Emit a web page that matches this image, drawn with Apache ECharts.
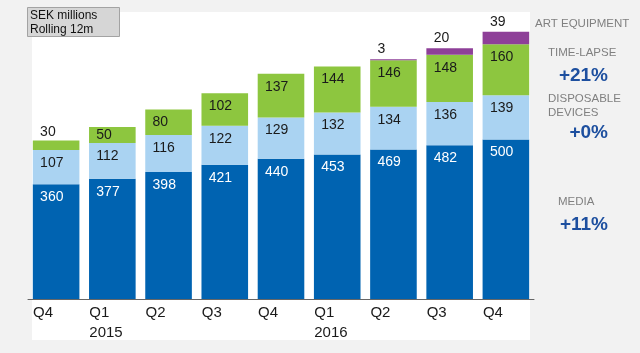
<!DOCTYPE html>
<html><head><meta charset="utf-8">
<script src="https://cdn.jsdelivr.net/npm/echarts/dist/echarts.min.js"></script>
<style>html,body{margin:0;padding:0;background:#f2f2f2}#c{width:640px;height:353px}</style>
</head><body><div id="c"></div>
<script>
const quarters = ['Q4','Q1','Q2','Q3','Q4','Q1','Q2','Q3','Q4'];
const years = ['','2015','','','','2016','','',''];
const media = [360,377,398,421,440,453,469,482,500];
const disposable = [107,112,116,122,129,132,134,136,139];
const timelapse = [30,50,80,102,137,144,146,148,160];
const artEquipment = [0,0,0,0,0,0,3,20,39];
const seriesNames = ['MEDIA','DISPOSABLE DEVICES','TIME-LAPSE','ART EQUIPMENT'];
const growthTimelapse = '+21%';
const growthDisposable = '+0%';
const growthMedia = '+11%';
const unitNote = ['SEK millions','Rolling 12m'];

const FONT = '"Liberation Sans", Arial, sans-serif';
const baseLabel = {show:true, position:'insideTop', distance:6, align:'left', offset:[-16,0],
  fontSize:14, fontFamily:FONT, color:'#1a1a1a'};

const tlData = timelapse.map((v,i)=>{
  const isTop = !artEquipment[i];
  if (isTop && v < 40) return {value:v, label:{position:'top', distance:1}};
  if (v < 60) return {value:v, label:{position:'inside'}};
  return v;
});

const chart = echarts.init(document.getElementById('c'), null, {renderer:'canvas'});
const greyText = (txt, x, y) => ({type:'text', x, y, z:5, style:{text:txt, fill:'#808080',
  font:'11.5px ' + FONT, textAlign:'left', textVerticalAlign:'middle', verticalAlign:'middle'}});
const blueText = (txt, x, y) => ({type:'text', x, y, z:5, style:{text:txt, fill:'#1d4f9f',
  font:'bold 19px ' + FONT, textAlign:'right', textVerticalAlign:'middle', verticalAlign:'middle'}});

chart.setOption({
  animation:false,
  backgroundColor:'transparent',
  grid:{left:28, right:106, top:12, bottom:54, containLabel:false},
  xAxis:{type:'category', data:quarters,
    axisTick:{show:false},
    axisLine:{lineStyle:{color:'#666', width:1}},
    axisLabel:{interval:0, margin:4,
      formatter:(v,i)=> '{a|'+v+'}' + (years[i] ? '\n{a|'+years[i]+'}' : ''),
      rich:{a:{width:46, align:'left', fontSize:15, lineHeight:20, color:'#1a1a1a', fontFamily:FONT}}}
  },
  yAxis:{type:'value', min:0, max:900, show:false, splitLine:{show:false}},
  series:[
    {name:seriesNames[0], type:'bar', stack:'s', data:media, barWidth:46.6,
      itemStyle:{color:'#0063b1'}, label:Object.assign({}, baseLabel, {color:'#ffffff'})},
    {name:seriesNames[1], type:'bar', stack:'s', data:disposable, barWidth:46.6,
      itemStyle:{color:'#aad3f2'}, label:Object.assign({}, baseLabel)},
    {name:seriesNames[2], type:'bar', stack:'s', data:tlData, barWidth:46.6,
      itemStyle:{color:'#8dc63f'}, label:Object.assign({}, baseLabel)},
    {name:seriesNames[3], type:'bar', stack:'s', data:artEquipment, barWidth:46.6,
      itemStyle:{color:'#8e3f98'}, label:Object.assign({}, baseLabel, {position:'top', distance:3,
        formatter:p=> p.value > 0 ? String(p.value) : ''})}
  ],
  graphic:[
    {type:'rect', z:-10, silent:true, shape:{x:32, y:12, width:498, height:328}, style:{fill:'#ffffff'}},
    {type:'rect', z:5, shape:{x:27.5, y:7.5, width:92, height:29}, style:{fill:'#d6d6d6', stroke:'#a3a3a3', lineWidth:1}},
    {type:'text', z:6, x:30, y:16, style:{text:unitNote[0], fill:'#111', font:'12px '+FONT, textVerticalAlign:'middle', verticalAlign:'middle'}},
    {type:'text', z:6, x:30, y:30, style:{text:unitNote[1], fill:'#111', font:'12px '+FONT, textVerticalAlign:'middle', verticalAlign:'middle'}},
    greyText(seriesNames[3], 535, 24),
    greyText(seriesNames[2], 548, 53),
    blueText(growthTimelapse, 608, 76),
    greyText('DISPOSABLE', 548, 99),
    greyText('DEVICES', 548, 113),
    blueText(growthDisposable, 608, 133),
    greyText(seriesNames[0], 558, 202),
    blueText(growthMedia, 608, 225)
  ]
});
</script></body></html>
